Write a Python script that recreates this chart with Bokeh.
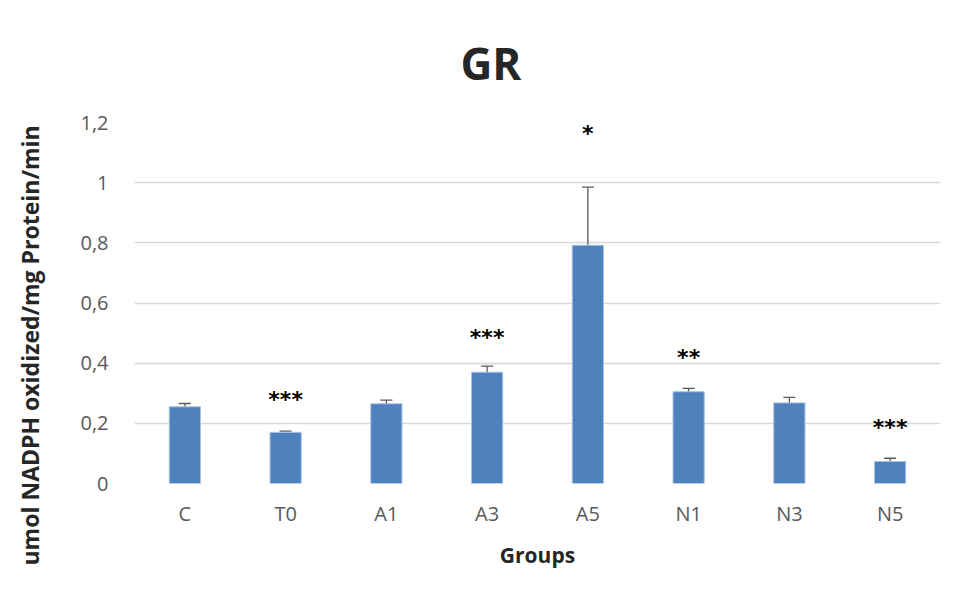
from bokeh.plotting import figure
from bokeh.models import ColumnDataSource, Whisker, TeeHead, FixedTicker, Title
from bokeh.core.properties import value
from bokeh.embed import file_html
from bokeh.resources import INLINE

groups = ["C", "T0", "A1", "A3", "A5", "N1", "N3", "N5"]
means = [0.255, 0.170, 0.265, 0.370, 0.792, 0.305, 0.268, 0.073]
errors = [0.011, 0.004, 0.012, 0.020, 0.193, 0.011, 0.018, 0.011]
stars = ["", "***", "", "***", "*", "**", "", "***"]
star_y = [0, 0.279, 0, 0.485, 1.164, 0.42, 0, 0.187]
y_ticks = [0, 0.2, 0.4, 0.6, 0.8, 1.0, 1.2]
y_tick_labels = ["0", "0,2", "0,4", "0,6", "0,8", "1", "1,2"]

src = ColumnDataSource(dict(
    g=groups, m=means,
    lo=[m - e for m, e in zip(means, errors)],
    hi=[m + e for m, e in zip(means, errors)],
))
sg = [g for g, s in zip(groups, stars) if s]
ss = [s for s in stars if s]
sy = [y for y, s in zip(star_y, stars) if s]
star_src = ColumnDataSource(dict(g=sg, t=ss, y=sy))

p = figure(x_range=groups, y_range=(0, 1.2), width=972, height=597,
           output_backend="svg", toolbar_location=None,
           min_border_left=156, min_border_right=10, min_border_top=122, min_border_bottom=114)
p.styles = {"margin-left": "-22px"}
p.outline_line_color = None
p.background_fill_color = "white"
p.border_fill_color = "white"

p.vbar(x="g", top="m", width=0.31, source=src, fill_color="#4f81bd", line_color="#a9c2e0", line_width=1)
w = Whisker(base="g", lower="lo", upper="hi", source=src, line_color="#595959", line_width=1.3,
            upper_head=TeeHead(size=12, line_color="#595959", line_width=1.3),
            lower_head=TeeHead(size=12, line_color="#595959", line_width=1.3))
p.add_layout(w)

p.text(x="g", y="y", text="t", source=star_src, text_align="center", text_baseline="middle",
       text_font=value("DejaVu Sans"), text_font_style="bold", text_font_size="22px", text_color="black")

p.xgrid.grid_line_color = None
p.ygrid.grid_line_color = "#d9d9d9"
p.ygrid.grid_line_width = 1.3
p.yaxis.ticker = FixedTicker(ticks=y_ticks)
p.yaxis.major_label_overrides = {t: l for t, l in zip(y_ticks, y_tick_labels)}
for ax in (p.xaxis, p.yaxis):
    ax.axis_line_color = None
    ax.major_tick_line_color = None
    ax.minor_tick_line_color = None
    ax.major_label_text_color = "#595959"
    ax.major_label_text_font = "Open Sans"
    ax.major_label_text_font_size = "20px"
p.yaxis.major_label_standoff = 20
p.xaxis.major_label_standoff = 10

p.xaxis.axis_label = "Groups"
p.xaxis.axis_label_text_font = "Open Sans"
p.xaxis.axis_label_text_font_style = "bold"
p.xaxis.axis_label_text_font_size = "21px"
p.xaxis.axis_label_text_color = "#262626"
p.xaxis.axis_label_standoff = 11

ylab = Title(text="umol NADPH oxidized/mg  Protein/min", align="left", offset=-82, standoff=63,
             text_font="Open Sans", text_font_style="bold", text_font_size="23px", text_color="#262626")
p.add_layout(ylab, "left")

p.title.text = "GR"
p.title.align = "left"
p.title.offset = 326
p.title.text_font = "Open Sans"
p.title.text_font_style = "bold"
p.title.text_font_size = "44px"
p.title.text_color = "#262626"
p.title.standoff = 60

open("out.html", "w").write(file_html(p, INLINE))
